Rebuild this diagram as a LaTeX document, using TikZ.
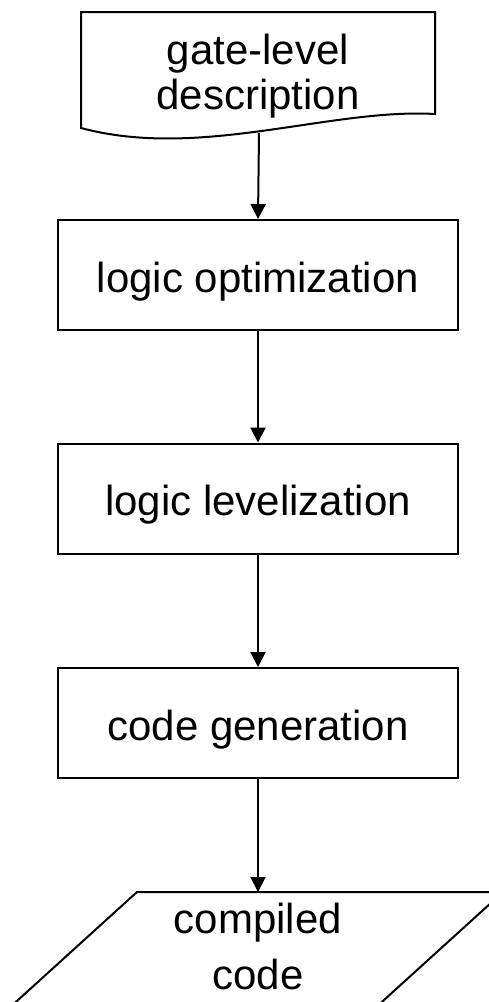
\documentclass[tikz,border=0pt]{standalone}
\usepackage{fontspec}
\setmainfont{Liberation Sans}
\usetikzlibrary{positioning, arrows.meta}

\begin{document}
\begin{tikzpicture}[x=1pt,y=-1pt,
    every node/.style={font=\fontsize{42}{45}\selectfont, align=center},
    stepbox/.style={draw,line width=2pt,minimum width=400pt,minimum height=110pt,inner sep=0pt,
        text height=40pt,text depth=6pt},
    flow/.style={line width=2pt,-{Triangle[length=15pt,width=15pt]}}]
    \useasboundingbox (0,0) rectangle (489,1002);
    \clip (0,0) rectangle (489,1002);
    % input document
    \draw[line width=2pt] (81,12) -- (435,12) -- (435,114)
        .. controls (330,108) and (200,160) .. (81,128) -- cycle;
    \node (desc) at (258,76) {gate-level\\description};
    \coordinate (desc out) at (259,133);

    \node[stepbox] (opt) at (258,275) {logic optimization};
    \node[stepbox] (lev) at (258,498.5) {logic levelization};
    \node[stepbox] (gen) at (258,723) {code generation};

    % output data
    \draw[line width=2pt] (137,892) -- (503,892) -- (373,1010) -- (7,1010) -- cycle;
    \node[font=\fontsize{42}{56}\selectfont] (comp) at (258,946) {compiled\\code};
    \coordinate (comp in) at (258,892);

    \draw[flow] (desc out) -- (opt.north);
    \draw[flow] (opt) -- (lev);
    \draw[flow] (lev) -- (gen);
    \draw[flow] (gen) -- (comp in);
\end{tikzpicture}
\end{document}
